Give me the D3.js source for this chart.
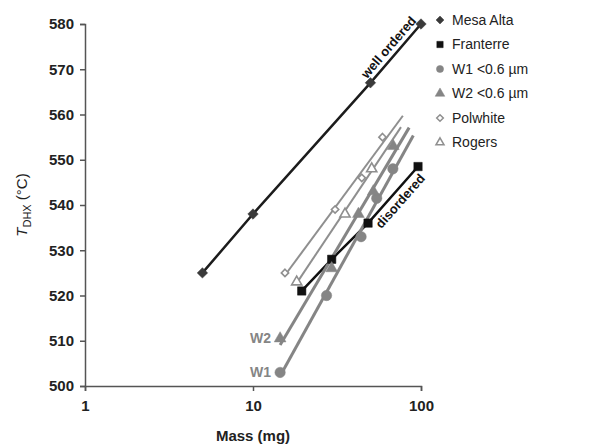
<!DOCTYPE html>
<html lang="en">
  <head>
    <meta charset="UTF-8" />
    <title>T_DHX vs Mass</title>
    <script src="https://d3js.org/d3.v7.min.js"></script>
    <style>
      body {
        margin: 0;
        background: #fff;
      }
      .chart text {
        font-family: "Liberation Sans", Arial, sans-serif;
      }
    </style>
  </head>
  <body>
    <div class="chart"></div>

    <script>
      // series: [mass (mg), T_DHX (°C)]
      var mesaAlta = [[5, 525], [10, 538], [50, 567], [100, 580]];
      var franterre = [[19.5, 521], [29.4, 528], [48.4, 536], [96, 548.5]];
      var w1 = [[14.5, 503], [27.4, 520], [44, 533], [54.5, 541.5], [68, 548]];
      var w2 = [[14.5, 510.5], [29.4, 526], [42.4, 538], [52, 543], [68.4, 553]];
      var polwhite = [[15.5, 525], [30.8, 539], [44.4, 546], [59, 555]];
      var rogers = [[18.2, 523], [35.3, 538], [50.9, 548]];

      // mass where the fitted trend lines stop
      var trendEnd = { w1: 90, w2: 85, polwhite: 78, rogers: 76 };

      var xTicks = [1, 10, 100];
      var yTicks = [500, 510, 520, 530, 540, 550, 560, 570, 580];
      var legendNames = ["Mesa Alta", "Franterre", "W1 <0.6 \u00b5m", "W2 <0.6 \u00b5m", "Polwhite", "Rogers"];

      var margin = { top: 24, right: 168, bottom: 59, left: 85 };
      var width = 589 - margin.left - margin.right;
      var height = 445 - margin.top - margin.bottom;

      var svgContainer = d3
        .select(".chart")
        .append("svg")
        .attr("width", 589)
        .attr("height", 445);

      var svg = svgContainer
        .append("g")
        .attr("transform", "translate(" + margin.left + ", " + margin.top + ")");

      var xScale = d3.scaleLog().domain([1, 100]).range([0, width]);
      var yScale = d3.scaleLinear().domain([500, 580]).range([height, 0]);

      // axes
      var axisColor = "#555";
      var yAxis = d3.axisLeft(yScale).tickValues(yTicks).tickSize(5).tickPadding(6).tickFormat(d3.format("d"));
      var gy = svg.append("g").call(yAxis);
      var xAxis = d3.axisBottom(xScale).tickValues(xTicks).tickSize(5).tickPadding(9).tickFormat(d3.format("d"));
      var gx = svg.append("g").attr("transform", `translate(0, ${height})`).call(xAxis);

      [gx, gy].forEach(function (g) {
        g.select(".domain").attr("stroke", axisColor).attr("stroke-width", 1.5);
        g.selectAll(".tick line").attr("stroke", axisColor).attr("stroke-width", 1.5);
        g.selectAll(".tick text")
          .attr("fill", "#222")
          .style("font-size", "15px")
          .style("font-weight", "bold");
      });

      // axis titles
      svg
        .append("text")
        .attr("x", width / 2)
        .attr("y", height + 55)
        .attr("text-anchor", "middle")
        .attr("fill", "#222")
        .style("font-size", "15px")
        .style("font-weight", "bold")
        .text("Mass (mg)");

      var yTitle = svg
        .append("text")
        .attr("transform", "translate(-58," + height / 2 + ") rotate(-90)")
        .attr("text-anchor", "middle")
        .attr("fill", "#222")
        .style("font-size", "15px");
      yTitle.append("tspan").style("font-style", "italic").text("T");
      yTitle.append("tspan").attr("dy", 4).style("font-size", "11px").text("DHX");
      yTitle.append("tspan").attr("dy", -4).text(" (\u00b0C)");

      var line = d3
        .line()
        .x(function (d) {
          return xScale(d[0]);
        })
        .y(function (d) {
          return yScale(d[1]);
        });

      // least-squares fit of T against log10(mass)
      function fit(data, xEnd) {
        var lx = data.map(function (d) {
          return Math.log10(d[0]);
        });
        var mx = d3.mean(lx);
        var my = d3.mean(data, function (d) {
          return d[1];
        });
        var sxy = d3.sum(data, function (d, i) {
          return (lx[i] - mx) * (d[1] - my);
        });
        var sxx = d3.sum(lx, function (v) {
          return (v - mx) * (v - mx);
        });
        var b = sxy / sxx;
        var a = my - b * mx;
        var x0 = data[0][0];
        return [
          [x0, a + b * Math.log10(x0)],
          [xEnd, a + b * Math.log10(xEnd)],
        ];
      }

      var grey = "#858585";
      var lightGrey = "#8f8f8f";

      var series = [
        { name: legendNames[0], data: mesaAlta, color: "#1c1c1c", mark: "#3a3a3a", symbol: d3.symbolDiamond2, size: 70, open: false, lw: 2.5, trend: null },
        { name: legendNames[1], data: franterre, color: "#111", mark: "#111", symbol: d3.symbolSquare, size: 70, open: false, lw: 2.5, trend: null },
        { name: legendNames[2], data: w1, color: grey, mark: grey, symbol: d3.symbolCircle, size: 85, open: false, lw: 3, trend: trendEnd.w1 },
        { name: legendNames[3], data: w2, color: grey, mark: grey, symbol: d3.symbolTriangle, size: 60, open: false, lw: 3, trend: trendEnd.w2 },
        { name: legendNames[4], data: polwhite, color: lightGrey, mark: lightGrey, symbol: d3.symbolDiamond2, size: 34, open: true, lw: 2, trend: trendEnd.polwhite },
        { name: legendNames[5], data: rogers, color: lightGrey, mark: lightGrey, symbol: d3.symbolTriangle, size: 45, open: true, lw: 2, trend: trendEnd.rogers },
      ];

      // lines
      svg
        .selectAll(".series-line")
        .data(series)
        .enter()
        .append("path")
        .attr("class", "series-line")
        .attr("fill", "none")
        .attr("stroke", function (d) {
          return d.color;
        })
        .attr("stroke-width", function (d) {
          return d.lw;
        })
        .attr("d", function (d) {
          return line(d.trend ? fit(d.data, d.trend) : d.data);
        });

      // markers
      series.forEach(function (s) {
        svg
          .append("g")
          .selectAll("path")
          .data(s.data)
          .enter()
          .append("path")
          .attr("transform", function (d) {
            return "translate(" + xScale(d[0]) + "," + yScale(d[1]) + ")";
          })
          .attr("d", d3.symbol().type(s.symbol).size(s.size))
          .attr("fill", s.open ? "#fff" : s.mark)
          .attr("stroke", s.mark)
          .attr("stroke-width", s.open ? 1.6 : 0.5);
      });

      // labels along the black lines
      function slopeAngle(p, q) {
        return (Math.atan2(yScale(q[1]) - yScale(p[1]), xScale(q[0]) - xScale(p[0])) * 180) / Math.PI;
      }
      function lineLabel(p, q, t, text, dy) {
        var px = xScale(p[0]) + (xScale(q[0]) - xScale(p[0])) * t;
        var py = yScale(p[1]) + (yScale(q[1]) - yScale(p[1])) * t;
        svg
          .append("text")
          .attr("transform", "translate(" + px + "," + py + ") rotate(" + slopeAngle(p, q) + ")")
          .attr("dy", dy)
          .attr("text-anchor", "middle")
          .attr("fill", "#111")
          .style("font-size", "13px")
          .style("font-weight", "bold")
          .text(text);
      }
      lineLabel(mesaAlta[2], mesaAlta[3], 0.5, "well ordered", -5);
      lineLabel(franterre[2], franterre[3], 0.5, "disordered", 14);

      // W1 / W2 tags at the start of their lines
      [
        ["W2", w2[0]],
        ["W1", w1[0]],
      ].forEach(function (t) {
        svg
          .append("text")
          .attr("x", xScale(t[1][0]) - 9)
          .attr("y", yScale(t[1][1]))
          .attr("dy", "0.35em")
          .attr("text-anchor", "end")
          .attr("fill", grey)
          .style("font-size", "14px")
          .style("font-weight", "bold")
          .text(t[0]);
      });

      // legend
      var legend = svgContainer
        .append("g")
        .attr("transform", "translate(440, 20)");
      var items = legend
        .selectAll("g")
        .data(series)
        .enter()
        .append("g")
        .attr("transform", function (d, i) {
          return "translate(0," + i * 24.5 + ")";
        });
      items
        .append("path")
        .attr("d", function (d) {
          return d3.symbol().type(d.symbol).size(d.open ? 28 : 40)();
        })
        .attr("fill", function (d) {
          return d.open ? "#fff" : d.mark;
        })
        .attr("stroke", function (d) {
          return d.mark;
        })
        .attr("stroke-width", function (d) {
          return d.open ? 1.5 : 0.5;
        });
      items
        .append("text")
        .attr("x", 12)
        .attr("dy", "0.35em")
        .attr("fill", "#222")
        .style("font-size", "14px")
        .text(function (d) {
          return d.name;
        });
    </script>
  </body>
</html>
